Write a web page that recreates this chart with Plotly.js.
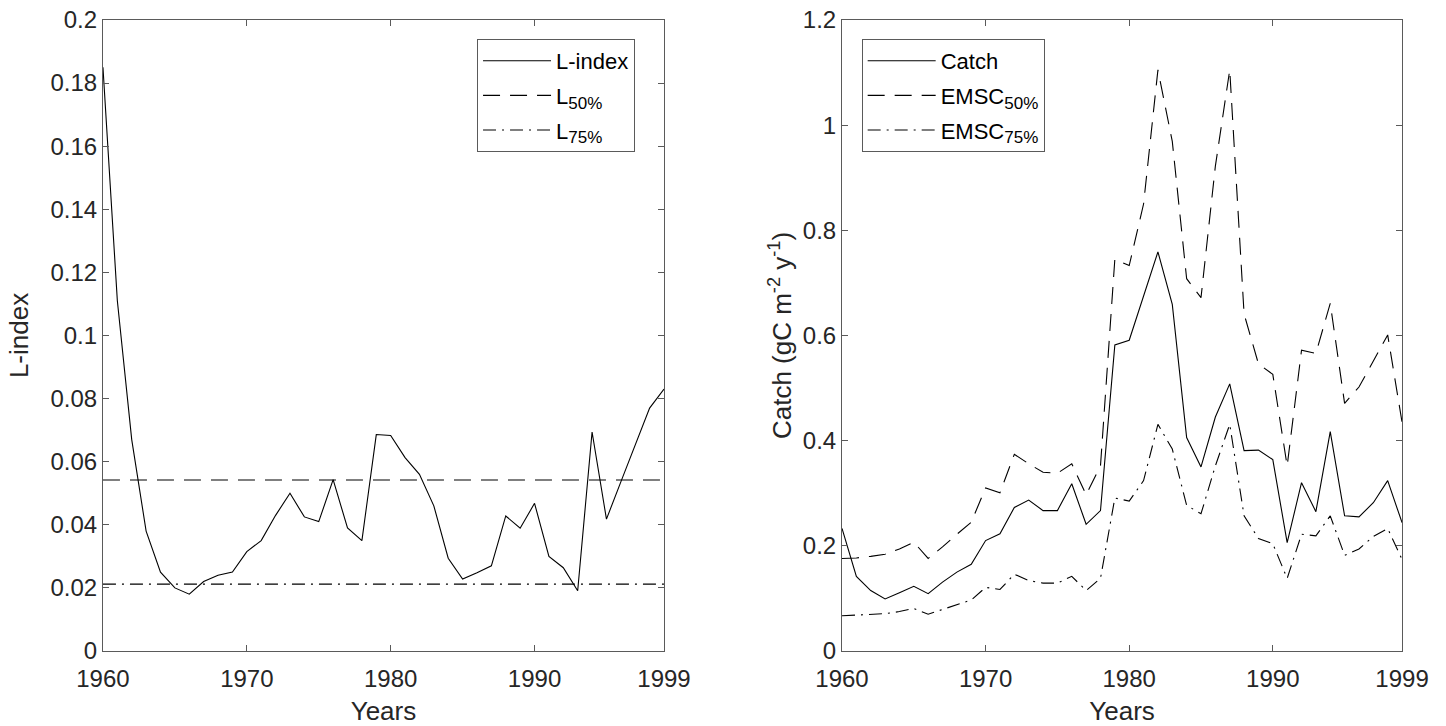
<!DOCTYPE html>
<html>
<head>
<meta charset="utf-8">
<script src="https://cdn.plot.ly/plotly-3.0.1.min.js"></script>
<style>html,body{margin:0;padding:0;background:#fff;}#chart{width:1446px;height:726px;}</style>
</head>
<body>
<div id="chart"></div>
<script>
const years = [1960,1961,1962,1963,1964,1965,1966,1967,1968,1969,
               1970,1971,1972,1973,1974,1975,1976,1977,1978,1979,
               1980,1981,1982,1983,1984,1985,1986,1987,1988,1989,
               1990,1991,1992,1993,1994,1995,1996,1997,1998,1999];
const lIndex = [0.185,0.111,0.067,0.038,0.025,0.020,0.018,0.022,0.024,0.025,
                0.0315,0.035,0.043,0.050,0.0425,0.041,0.0543,0.039,0.035,0.0686,
                0.0683,0.0613,0.056,0.046,0.0294,0.0228,0.0248,0.027,0.0428,0.0389,
                0.0468,0.030,0.0264,0.0191,0.0694,0.0418,0.0536,0.0653,0.077,0.083];
const l50 = 0.0542;
const l75 = 0.0212;
const catchVals = [0.233,0.142,0.115,0.099,0.111,0.123,0.109,0.131,0.150,0.165,
                   0.210,0.223,0.273,0.287,0.267,0.267,0.318,0.241,0.267,0.582,
                   0.591,0.676,0.759,0.659,0.406,0.350,0.445,0.508,0.381,0.382,
                   0.364,0.206,0.320,0.265,0.417,0.257,0.255,0.282,0.324,0.244];
const emsc50 = [0.176,0.177,0.180,0.184,0.194,0.207,0.176,0.198,0.222,0.245,
                0.310,0.301,0.374,0.356,0.340,0.338,0.356,0.297,0.352,0.745,
                0.733,0.850,1.105,0.969,0.708,0.672,0.922,1.105,0.641,0.546,
                0.526,0.352,0.572,0.566,0.661,0.471,0.502,0.551,0.601,0.435];
const emsc75 = [0.067,0.068,0.070,0.071,0.075,0.081,0.070,0.079,0.089,0.097,
                0.121,0.117,0.146,0.134,0.129,0.129,0.142,0.115,0.138,0.291,
                0.285,0.324,0.431,0.384,0.277,0.261,0.352,0.431,0.257,0.214,
                0.204,0.138,0.222,0.219,0.257,0.182,0.194,0.218,0.233,0.174];
const xTickVals = [1960,1970,1980,1990,1999];
const xTickText = ['1960','1970','1980','1990','1999'];
const yTickVals1 = [0,0.02,0.04,0.06,0.08,0.1,0.12,0.14,0.16,0.18,0.2];
const yTickText1 = ['0','0.02','0.04','0.06','0.08','0.1','0.12','0.14','0.16','0.18','0.2'];
const yTickVals2 = [0,0.2,0.4,0.6,0.8,1,1.2];
const yTickText2 = ['0','0.2','0.4','0.6','0.8','1','1.2'];

const FONT = 'Liberation Sans, Arial, Helvetica, sans-serif';
const TXT = '#262626';
const AX = '#5a5a5a';
const DASH = '17px,10px';
const DASHDOT = '13px,6px,2px,6px';
const xEnds = [years[0], years[years.length-1]];

function sub(base, s){ return base + '<sub><span style="font-size:17px">' + s + '</span></sub>'; }

const traces = [
  {x: years, y: lIndex, type:'scatter', mode:'lines', name:'L-index', legendgroup:'a1',
   line:{color:'#000', width:1.1}, xaxis:'x', yaxis:'y', legend:'legend'},
  {x: xEnds, y:[l50,l50], type:'scatter', mode:'lines', name:sub('L','50%'), legendgroup:'a2',
   line:{color:'#000', width:1.1, dash:DASH}, xaxis:'x', yaxis:'y', legend:'legend'},
  {x: xEnds, y:[l75,l75], type:'scatter', mode:'lines', name:sub('L','75%'), legendgroup:'a3',
   line:{color:'#000', width:1.1, dash:DASHDOT}, xaxis:'x', yaxis:'y', legend:'legend'},
  {x: years, y: catchVals, type:'scatter', mode:'lines', name:'Catch', legendgroup:'b1',
   line:{color:'#000', width:1.1}, xaxis:'x2', yaxis:'y2', legend:'legend2'},
  {x: years, y: emsc50, type:'scatter', mode:'lines', name:sub('EMSC','50%'), legendgroup:'b2',
   line:{color:'#000', width:1.1, dash:DASH}, xaxis:'x2', yaxis:'y2', legend:'legend2'},
  {x: years, y: emsc75, type:'scatter', mode:'lines', name:sub('EMSC','75%'), legendgroup:'b3',
   line:{color:'#000', width:1.1, dash:DASHDOT}, xaxis:'x2', yaxis:'y2', legend:'legend2'}
];

function xAxis(domain, anchor){
  return {domain: domain, anchor: anchor, range:[1960,1999], tickvals:xTickVals, ticktext:xTickText,
    ticks:'inside', ticklen:6, tickcolor:AX, showline:true, linecolor:AX, linewidth:1, mirror:'ticks',
    showgrid:false, zeroline:false, tickfont:{family:FONT, size:24, color:TXT}, ticklabelstandoff:6,
    title:{text:'Years', font:{family:FONT, size:26, color:TXT}, standoff:14}};
}
function yAxis(range, tv, tt, title, anchor, standoff){
  return {domain:[0.1033,0.9725], anchor: anchor, range:range, tickvals:tv, ticktext:tt,
    ticks:'inside', ticklen:6, tickcolor:AX, showline:true, linecolor:AX, linewidth:1, mirror:'ticks',
    showgrid:false, zeroline:false, tickfont:{family:FONT, size:24, color:TXT},
    title:{text:title, font:{family:FONT, size:26, color:TXT}, standoff:standoff}};
}
function legendCfg(x){
  return {x:x, y:0.9463, xanchor:'left', yanchor:'top', bgcolor:'#fff', bordercolor:AX, borderwidth:1,
    font:{family:FONT, size:22, color:'#000'}, itemwidth:68, tracegroupgap:3, traceorder:'grouped'};
}

const layout = {
  width:1446, height:726, margin:{l:0, r:0, t:0, b:0},
  paper_bgcolor:'#fff', plot_bgcolor:'#fff', showlegend:true,
  xaxis: xAxis([0.0712,0.4592], 'y'),
  yaxis: yAxis([0,0.2], yTickVals1, yTickText1, 'L-index', 'x', 14),
  xaxis2: xAxis([0.5823,0.9696], 'y2'),
  yaxis2: yAxis([0,1.2], yTickVals2, yTickText2, 'Catch (gC m<sup>-2</sup> y<sup>-1</sup>)', 'x2', 3),
  legend: legendCfg(0.3299),
  legend2: legendCfg(0.5959)
};

Plotly.newPlot('chart', traces, layout, {displayModeBar:false, staticPlot:true});
</script>
</body>
</html>
